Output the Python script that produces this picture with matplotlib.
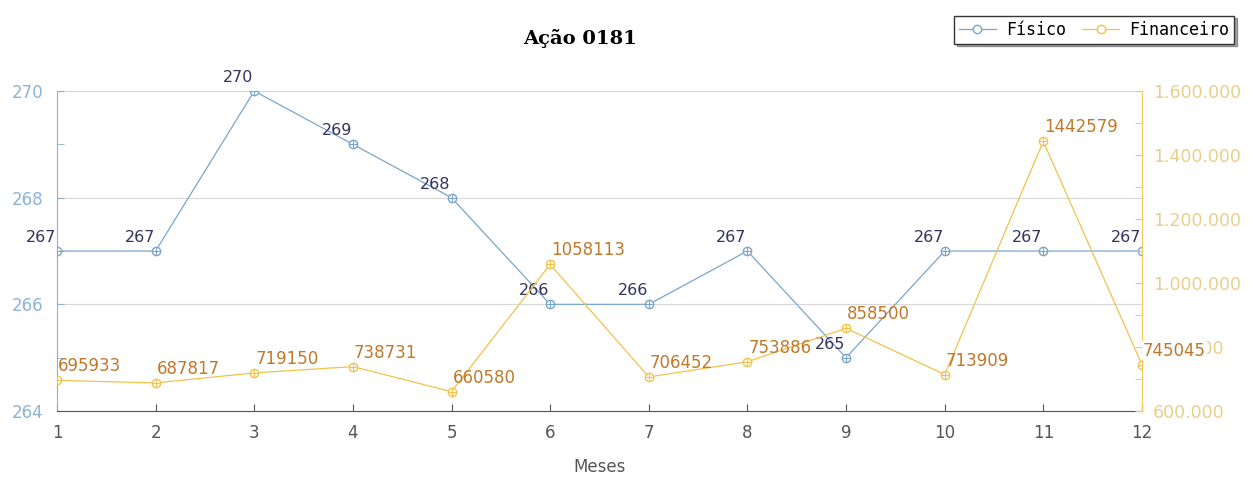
import matplotlib.pyplot as plt
from matplotlib.ticker import FuncFormatter, MultipleLocator

meses = list(range(1, 13))
fisico = [267, 267, 270, 269, 268, 266, 266, 267, 265, 267, 267, 267]
financeiro = [695933, 687817, 719150, 738731, 660580, 1058113, 706452,
              753886, 858500, 713909, 1442579, 745045]

c_fis = "#7aa6cc"
c_fin = "#f2c24a"
c_fis_txt = "#33335e"
c_fin_txt = "#c0782a"

fig = plt.figure(figsize=(12.55, 4.8), dpi=100)
ax = fig.add_axes([0.0454, 0.1437, 0.8645, 0.6667])
ax2 = ax.twinx()

# Físico (eixo esquerdo)
l1, = ax.plot(meses, fisico, color=c_fis, lw=0.9, marker="o", ms=6,
              mfc="white", mec=c_fis, mew=1, label="Físico", zorder=3)
ax.plot(meses, fisico, ls="none", marker="+", ms=6, mec=c_fis, mew=0.8, zorder=4)
for x, y in zip(meses, fisico):
    ax.annotate(str(y), (x, y), xytext=(-0.5, 6.5), textcoords="offset points",
                ha="right", va="baseline", color=c_fis_txt, fontsize=11.5)

# Financeiro (eixo direito)
l2, = ax2.plot(meses, financeiro, color=c_fin, lw=0.9, marker="o", ms=6,
               mfc="white", mec=c_fin, mew=1, label="Financeiro", zorder=3)
ax2.plot(meses, financeiro, ls="none", marker="+", ms=6, mec=c_fin, mew=0.8, zorder=4)
for i, (x, y) in enumerate(zip(meses, financeiro)):
    # o último rótulo fica por cima do texto do eixo, como no original
    bb = dict(fc="white", ec="none", pad=0.5) if i == len(meses) - 1 else None
    ax2.annotate(str(y), (x, y), xytext=(0.8, 6.5), textcoords="offset points",
                 ha="left", va="baseline", color=c_fin_txt, fontsize=12,
                 bbox=bb, zorder=5)

ax.set_xlim(1, 12)
ax.set_ylim(264, 270)
ax2.set_ylim(600000, 1600000)
ax.set_xticks(meses)

ax.yaxis.set_major_locator(MultipleLocator(2))
ax.yaxis.set_minor_locator(MultipleLocator(1))
ax2.yaxis.set_major_locator(MultipleLocator(200000))
ax2.yaxis.set_minor_locator(MultipleLocator(100000))
ax2.yaxis.set_major_formatter(FuncFormatter(lambda v, p: f"{int(v):,}".replace(",", ".")))

ax.grid(axis="y", which="major", color="#d8d8d8", lw=0.8)
ax.set_axisbelow(True)

for a in (ax, ax2):
    a.spines["top"].set_visible(False)
ax.spines["bottom"].set_color("#555555")
ax.spines["left"].set_color("#8fb0c8")
ax.spines["right"].set_visible(False)
ax2.spines["left"].set_visible(False)
ax2.spines["bottom"].set_visible(False)
ax2.spines["right"].set_color("#f0c860")

ax.tick_params(axis="x", direction="in", length=5, colors="#555555",
               labelcolor="#555555", labelsize=12, pad=9)
ax.tick_params(axis="y", which="both", direction="in", length=5,
               colors="#8fb0c8", labelcolor="#8ab4d8", labelsize=12, pad=10)
ax2.tick_params(axis="y", which="both", direction="in", length=5,
                colors="#f0c860", labelcolor="#e6d08a", labelsize=12.5, pad=8)

ax.set_xlabel("Meses", color="#555555", fontsize=12, labelpad=12)

fig.text(0.462, 0.92, "Ação 0181", family="DejaVu Serif", weight="bold",
         fontsize=14, ha="center", va="center")

leg = fig.legend(handles=[l1, l2], loc="upper right", bbox_to_anchor=(0.99, 0.985),
                 ncol=2, frameon=True, fancybox=False, shadow=True,
                 prop={"family": "DejaVu Sans Mono", "size": 12},
                 handlelength=2.2, handletextpad=0.6, columnspacing=1.0,
                 borderpad=0.3)
leg.get_frame().set_edgecolor("#333333")
leg.get_frame().set_linewidth(1.0)

fig.savefig("out.png", dpi=100)
